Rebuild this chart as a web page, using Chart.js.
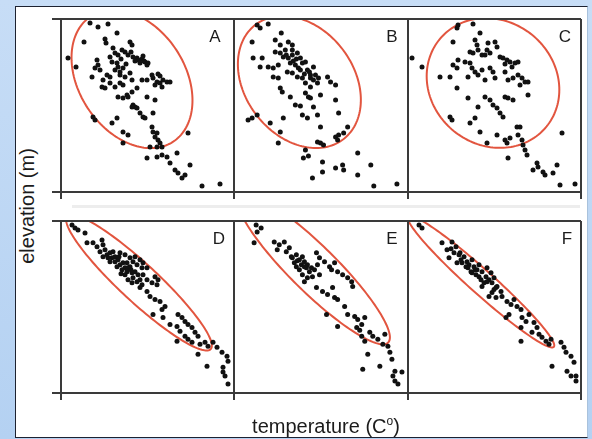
<!DOCTYPE html>
<html lang="en">
<head>
  <meta charset="UTF-8">
  <title>Elevation vs temperature</title>
  <script src="https://cdn.jsdelivr.net/npm/chart.js"></script>
  <style>
    body {
      margin: 0;
      width: 592px;
      height: 439px;
      overflow: hidden;
      position: relative;
      background: linear-gradient(180deg, #c7ddf6 0%, #b4d1f2 100%);
      font-family: "Liberation Sans", Arial, sans-serif;
      color: #1c1c1c;
    }
    #sheet {
      position: absolute;
      left: 15px; top: 6px;
      width: 571px; height: 430px;
      background: #fff;
      border-left: 1px solid #1d2230;
      border-top: 1px solid #1d2230;
      border-bottom: 1px solid #1d2230;
      border-right: 1px solid #a9c2dc;
    }
    #band {
      position: absolute;
      left: 72px; top: 205px;
      width: 508px; height: 3px;
      background: #ededed;
    }
    canvas { position: absolute; }
    .tag {
      position: absolute;
      font-size: 17px;
      line-height: 17px;
      transform: translate(-50%, -50%);
    }
    #ylab {
      position: absolute;
      left: 27px; top: 206px;
      font-size: 20px;
      line-height: 22px;
      white-space: nowrap;
      transform: translate(-50%, -50%) rotate(-90deg);
    }
    #xlab {
      position: absolute;
      left: 326px; top: 416px;
      font-size: 20px;
      line-height: 20px;
      white-space: nowrap;
      transform: translateX(-50%);
    }
    #xlab span { font-size: 12px; position: relative; top: -8px; }
  </style>
</head>
<body>
  <div id="sheet"></div>
  <div id="band"></div>

  <canvas id="cA" width="189" height="187" style="left:49px;top:15px"></canvas>
  <canvas id="cB" width="190" height="187" style="left:222px;top:15px"></canvas>
  <canvas id="cC" width="189" height="187" style="left:396px;top:15px"></canvas>
  <canvas id="cD" width="189" height="186" style="left:49px;top:217px"></canvas>
  <canvas id="cE" width="190" height="186" style="left:222px;top:217px"></canvas>
  <canvas id="cF" width="189" height="186" style="left:396px;top:217px"></canvas>

  <div class="tag" style="left:215px;top:36px">A</div>
  <div class="tag" style="left:392px;top:36px">B</div>
  <div class="tag" style="left:565px;top:36px">C</div>
  <div class="tag" style="left:219px;top:238px">D</div>
  <div class="tag" style="left:392px;top:238px">E</div>
  <div class="tag" style="left:567px;top:238px">F</div>

  <div id="ylab">elevation (m)</div>
  <div id="xlab">temperature (C<span>o</span>)</div>

  <script>
    // [temperature, elevation] readings for each panel
    const panelA = [
      [29,169],[37,165],[47,168],[56,159],[23,150],[44,153],[45,149],[7,134],[15,125],[69,150],
      [71,147],[52,144],[54,139],[57,137],[61,142],[64,140],[67,137],[72,135],[76,134],[77,132],
      [81,133],[84,130],[86,127],[36,132],[37,127],[34,124],[39,122],[49,135],[51,130],[56,129],
      [57,125],[54,122],[59,120],[62,124],[46,117],[49,115],[42,112],[41,105],[44,104],[31,115],
      [59,117],[64,115],[69,119],[71,112],[81,112],[86,112],[91,117],[92,114],[96,110],[99,109],
      [102,112],[106,110],[109,110],[94,107],[101,105],[49,109],[54,105],[59,109],[62,107],[57,95],
      [62,94],[66,97],[67,95],[71,100],[76,104],[86,95],[94,92],[72,87],[74,85],[71,85],
      [76,84],[79,79],[82,75],[84,74],[92,79],[32,75],[34,72],[51,69],[56,74],[62,60],
      [67,57],[62,49],[91,65],[92,60],[96,59],[94,55],[97,52],[99,49],[96,45],[101,45],
      [89,45],[86,34],[96,35],[101,37],[106,35],[109,29],[116,39],[127,59],[114,22],[117,19],
      [121,14],[124,17],[129,27],[141,6],[159,8],[74,131],[79,129],[82,136],[87,129],[97,118],
      [99,116],[65,128],[70,140],[83,131],[60,133]
    ];
    const panelB = [
      [23,167],[26,164],[34,168],[47,159],[18,150],[41,152],[46,147],[54,150],[58,147],[41,140],
      [46,139],[51,142],[49,135],[54,134],[58,137],[63,139],[66,134],[56,129],[61,127],[68,129],
      [71,130],[19,134],[28,134],[26,125],[34,125],[39,124],[44,127],[39,115],[44,114],[53,120],
      [58,119],[66,122],[63,115],[68,114],[75,120],[76,114],[79,112],[81,117],[84,114],[79,125],
      [71,109],[76,105],[83,109],[93,115],[96,110],[101,107],[46,104],[48,100],[56,95],[71,99],
      [74,95],[76,94],[86,97],[101,92],[61,87],[66,86],[79,85],[68,77],[73,74],[83,77],
      [104,79],[14,72],[18,74],[23,77],[49,74],[36,69],[46,60],[44,49],[86,65],[113,65],
      [101,55],[104,57],[109,59],[83,50],[86,49],[89,47],[103,52],[71,42],[69,34],[74,36],
      [88,30],[88,20],[78,14],[101,24],[108,27],[109,22],[123,39],[123,17],[136,27],[139,6],
      [162,8],[59,131],[64,124],[76,117],[58,142],[52,137],[62,133],[70,118],[73,122]
    ];
    const panelC = [
      [50,167],[49,164],[65,168],[72,159],[4,134],[14,125],[45,150],[67,152],[69,147],[80,149],
      [87,150],[89,145],[62,140],[65,139],[70,142],[74,137],[79,142],[82,139],[92,135],[95,134],
      [99,132],[102,130],[107,129],[110,130],[50,132],[45,127],[49,124],[62,129],[64,124],[67,120],
      [70,117],[74,122],[82,124],[85,120],[87,114],[77,112],[32,115],[42,115],[60,115],[97,120],
      [100,112],[105,114],[110,117],[114,114],[117,110],[120,110],[112,107],[120,97],[49,104],[60,94],
      [70,85],[77,95],[82,92],[85,87],[89,84],[97,95],[100,94],[105,92],[92,79],[95,75],
      [42,75],[44,72],[62,69],[67,74],[72,60],[79,49],[89,57],[97,52],[99,49],[102,54],
      [109,65],[112,65],[110,57],[114,52],[115,47],[117,42],[119,37],[100,34],[154,59],[129,29],
      [130,25],[125,22],[135,20],[137,17],[145,19],[149,27],[152,7],[167,8],[77,137],[97,128],
      [104,125],[57,130]
    ];
    const panelD = [
      [11,169],[14,166],[17,164],[24,161],[26,151],[32,151],[36,147],[41,154],[42,149],[39,142],
      [44,144],[46,139],[49,141],[51,136],[54,137],[54,132],[57,134],[59,129],[62,131],[64,126],
      [66,122],[69,127],[71,121],[72,116],[76,112],[77,119],[81,109],[52,142],[59,141],[64,139],
      [69,136],[72,132],[76,129],[81,126],[82,119],[86,114],[91,111],[94,117],[97,114],[96,109],
      [74,137],[79,134],[82,131],[86,126],[64,119],[67,114],[79,106],[86,102],[89,97],[94,94],
      [99,92],[104,87],[101,84],[92,79],[102,76],[109,69],[117,79],[121,76],[124,72],[127,69],
      [131,66],[116,67],[119,62],[124,57],[127,54],[134,61],[137,57],[116,52],[131,51],[139,49],
      [144,51],[147,47],[152,51],[156,46],[161,41],[166,37],[167,32],[137,39],[146,27],[162,26],
      [162,21],[164,17],[167,9],[61,124],[67,126],[56,127],[71,111],[74,122],[79,114],[49,132],
      [42,137],[47,136],[58,137],[66,131],[70,124],[60,120]
    ];
    const panelE = [
      [22,169],[27,166],[23,162],[20,151],[40,152],[45,149],[50,152],[43,144],[52,142],[55,146],
      [57,137],[62,139],[65,134],[60,131],[67,129],[70,132],[72,126],[75,122],[68,119],[73,116],
      [78,117],[82,141],[85,136],[83,129],[80,124],[85,119],[90,132],[95,127],[100,131],[103,122],
      [108,119],[113,116],[117,112],[118,107],[82,106],[88,102],[93,99],[100,96],[103,94],[110,87],
      [113,79],[92,79],[103,67],[120,77],[123,74],[127,69],[130,76],[122,66],[127,57],[130,52],
      [135,61],[138,57],[143,54],[150,59],[148,49],[153,47],[133,39],[155,41],[157,34],[145,27],
      [128,24],[160,22],[167,21],[158,17],[160,12],[163,9],[62,127],[65,124],[70,112],[58,136],
      [73,129],[68,137],[98,106],[125,63],[63,133],[77,126],[97,124],[70,127]
    ];
    const panelF = [
      [11,169],[14,166],[34,151],[39,144],[41,136],[44,152],[48,147],[46,141],[51,139],[53,134],
      [56,137],[59,132],[61,129],[64,134],[66,127],[69,124],[71,129],[74,122],[78,117],[81,114],
      [84,111],[88,106],[79,126],[83,121],[86,116],[89,107],[74,107],[81,97],[88,96],[94,97],
      [99,92],[103,89],[106,94],[109,87],[113,84],[98,76],[101,79],[114,76],[118,72],[121,79],
      [126,71],[129,66],[113,66],[124,61],[131,59],[134,56],[138,52],[141,49],[143,54],[113,52],
      [153,51],[156,46],[158,41],[163,37],[166,31],[168,17],[168,12],[144,27],[159,22],[163,17],
      [58,127],[63,122],[68,119],[73,114],[76,111],[54,131],[49,131],[71,117],[93,102],[84,101],
      [43,145],[64,121],[52,141],[60,126],[67,124],[79,112],[86,104]
    ];

    // fitted ellipses: [centre temp, centre elev, semi-major, semi-minor, tilt deg]
    const ringA = [71, 113, 75, 53, -56.7];
    const ringB = [65, 110, 72, 54, -53];
    const ringC = [85, 109, 69, 62, -39];
    const ringD = [78, 111, 98, 19, -43];
    const ringE = [79, 125, 105, 23, -45];
    const ringF = [73, 112, 98, 12, -42];

    const axisMax = 173;

    function makePanel(id, points, ring) {
      // red ellipse, clipped to the plot box
      const ringPlugin = {
        id: "ring",
        beforeDatasetsDraw(chart) {
          const { ctx, chartArea: a, scales: { x, y } } = chart;
          const [cx, cy, ra, rb, deg] = ring;
          const phi = deg * Math.PI / 180;
          ctx.save();
          ctx.beginPath();
          ctx.rect(a.left, a.top, a.right - a.left, a.bottom - a.top);
          ctx.clip();
          ctx.beginPath();
          for (let k = 0; k <= 160; k++) {
            const t = k / 160 * 2 * Math.PI;
            const ex = cx + ra * Math.cos(t) * Math.cos(phi) - rb * Math.sin(t) * Math.sin(phi);
            const ey = cy + ra * Math.cos(t) * Math.sin(phi) + rb * Math.sin(t) * Math.cos(phi);
            const px = x.getPixelForValue(ex), py = y.getPixelForValue(ey);
            if (k === 0) ctx.moveTo(px, py); else ctx.lineTo(px, py);
          }
          ctx.closePath();
          ctx.strokeStyle = "#e2553f";
          ctx.lineWidth = 2;
          ctx.stroke();
          ctx.restore();
        }
      };

      // box round the panel with the small end ticks
      const framePlugin = {
        id: "frame",
        afterDraw(chart) {
          const { ctx, chartArea: a } = chart;
          ctx.save();
          ctx.strokeStyle = "#3a3a3a";
          ctx.lineWidth = 2;
          ctx.beginPath();
          ctx.moveTo(a.left - 9, a.top); ctx.lineTo(a.right, a.top);
          ctx.moveTo(a.left - 9, a.bottom); ctx.lineTo(a.right, a.bottom);
          ctx.moveTo(a.left, a.top); ctx.lineTo(a.left, a.bottom + 7);
          ctx.moveTo(a.right, a.top); ctx.lineTo(a.right, a.bottom + 7);
          ctx.stroke();
          ctx.restore();
        }
      };

      new Chart(document.getElementById(id), {
        type: "scatter",
        data: {
          datasets: [{
            data: points.map(p => ({ x: p[0], y: p[1] })),
            pointRadius: 2.5,
            pointBorderWidth: 0,
            pointBackgroundColor: "#111",
            clip: false
          }]
        },
        options: {
          responsive: false,
          animation: false,
          events: [],
          layout: { padding: { left: 12, top: 4, right: 4, bottom: 10 } },
          plugins: { legend: { display: false }, tooltip: { enabled: false } },
          scales: {
            x: { type: "linear", min: 0, max: axisMax, display: false },
            y: { type: "linear", min: 0, max: axisMax, display: false }
          }
        },
        plugins: [ringPlugin, framePlugin]
      });
    }

    makePanel("cA", panelA, ringA);
    makePanel("cB", panelB, ringB);
    makePanel("cC", panelC, ringC);
    makePanel("cD", panelD, ringD);
    makePanel("cE", panelE, ringE);
    makePanel("cF", panelF, ringF);
  </script>
</body>
</html>
